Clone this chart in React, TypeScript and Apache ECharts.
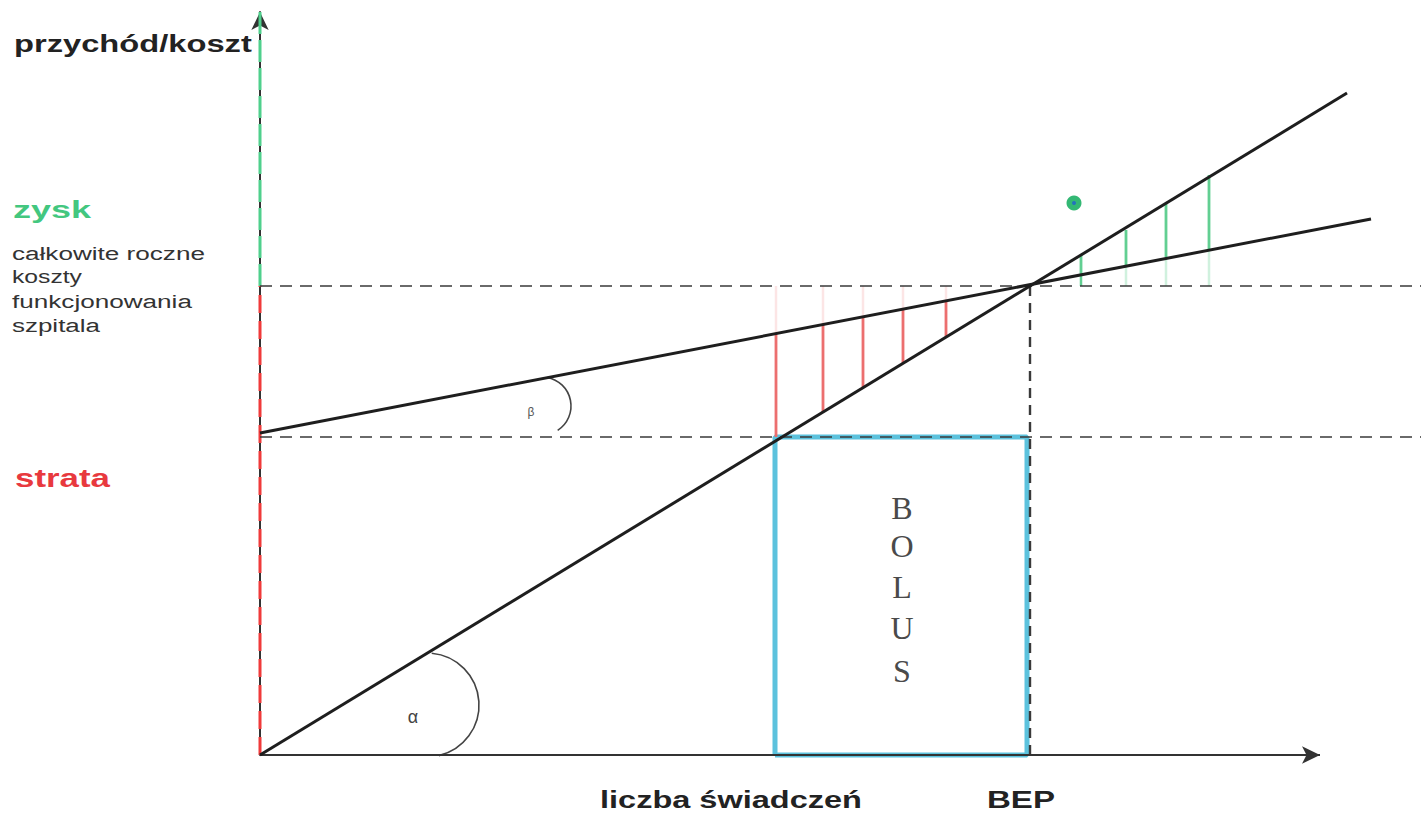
import React, { useEffect, useRef } from "react";
import * as echarts from "echarts";

// ---- data (abstract units: quantity of services vs. revenue/cost) ----
const xRange = [0, 116.1];
const yRange = [0, 74.3];
const xAxisEnd = 106;
const revenuePoints = [[0, 0], [108.7, 66.2]];
const costPoints = [[0, 32.2], [111.1, 53.6]];
const bepPoint = [77, 46.9];
const bolusLevel = 31.8;
const dashEndX = 116.1;
const bolusCorners = [[51.5, 0], [51.5, 31.8], [76.7, 31.8], [76.7, 0], [51.5, 0]];
const lossX = [51.6, 56.3, 60.3, 64.3, 68.6];
const lossRevenue = [31.8, 34.3, 36.8, 39.2, 41.8];
const lossCost = [42.2, 43.1, 43.9, 44.7, 45.5];
const profitX = [82.1, 86.6, 90.6, 94.9];
const profitCost = [48.1, 49.0, 49.8, 50.6];
const profitRevenue = [50.0, 52.5, 55.2, 58.0];
const markerPoint = [81.4, 55.2];

// ---- texts ----
const yAxisTitle = "przychód/koszt";
const xAxisTitle = "liczba świadczeń";
const bepLabel = "BEP";
const profitLabel = "zysk";
const lossLabel = "strata";
const costLabelLines = ["całkowite roczne", "koszty", "funkcjonowania", "szpitala"];
const bolusLetters = ["B", "O", "L", "U", "S"];
const alphaLabel = "α";
const betaLabel = "β";

const SANS = '"Liberation Sans", Arial, sans-serif';
const SERIF = '"Liberation Serif", "Times New Roman", serif';

function fitScale(text: string, font: string, target: number): number {
  const ctx = document.createElement("canvas").getContext("2d");
  if (!ctx) return 1;
  ctx.font = font;
  const w = ctx.measureText(text).width;
  return w > 0 ? target / w : 1;
}

function label(text: string, x: number, y: number, size: number, weight: string, color: string, target?: number, family: string = SANS, align: string = "left") {
  const font = `${weight} ${size}px ${family}`;
  return {
    type: "text",
    x,
    y,
    scaleX: target ? fitScale(text, font, target) : 1,
    silent: true,
    style: {
      text,
      font,
      fill: color,
      align,
      textAlign: align,
      verticalAlign: "middle",
      textVerticalAlign: "middle",
    },
  };
}

const BLACK = "#1e1e1e";
const DASH = "#3a3a3a";
const RED = "#ec6f6f";
const GREEN = "#62cf92";

function seg(data: number[][], color: string, width: number, type: any = "solid", opacity = 1, z = 2) {
  return {
    type: "line",
    data,
    symbol: "none",
    silent: true,
    clip: false,
    z,
    lineStyle: { color, width, type, opacity, cap: "butt" },
  };
}

export default function App() {
  const ref = useRef<HTMLDivElement>(null);

  useEffect(() => {
    document.body.style.margin = "0";
    if (!ref.current) return;
    const chart = echarts.init(ref.current, undefined, { renderer: "svg" });

    const series: any[] = [];
    // horizontal axis with arrow
    series.push({
      type: "line",
      data: [],
      silent: true,
      markLine: {
        silent: true,
        animation: false,
        symbol: ["none", "arrow"],
        symbolSize: 16,
        label: { show: false },
        lineStyle: { color: "#333", width: 2, type: "solid" },
        data: [[{ coord: [0, 0], symbol: "none" }, { coord: [xAxisEnd, 0], symbol: "arrow", symbolSize: [13, 18] }]],
      },
    });
    // colored overlay on vertical axis
    series.push(seg([[0, bepPoint[1]], [0, yRange[1]]], "#4fd08c", 3, [22, 6], 1, 3));
    series.push(seg([[0, 0], [0, bepPoint[1]]], "#f03a3a", 3, [18, 8], 1, 3));
    // BOLUS rectangle
    series.push(seg(bolusCorners, "#5cc2dd", 5, "solid", 1, 2));
    // dashed guides
    series.push(seg([[0, bepPoint[1]], [dashEndX, bepPoint[1]]], DASH, 1.6, [12, 8], 1, 3));
    series.push(seg([[0, bolusLevel], [dashEndX, bolusLevel]], DASH, 1.6, [12, 8], 1, 3));
    series.push(seg([[bepPoint[0], 0], [bepPoint[0], bepPoint[1]]], DASH, 2.4, [10, 7], 1, 3));
    // loss stripes
    lossX.forEach((x, i) => {
      series.push(seg([[x, lossCost[i]], [x, bepPoint[1]]], RED, 2.5, "solid", 0.18, 2));
      series.push(seg([[x, lossRevenue[i]], [x, lossCost[i]]], RED, 2.8, "solid", 1, 2));
    });
    // profit stripes
    profitX.forEach((x, i) => {
      series.push(seg([[x, bepPoint[1]], [x, profitCost[i]]], GREEN, 2.5, "solid", i === 0 ? 1 : 0.3, 2));
      series.push(seg([[x, profitCost[i]], [x, profitRevenue[i]]], GREEN, 2.8, "solid", 1, 2));
    });
    // main lines
    series.push(seg(revenuePoints, BLACK, 3, "solid", 1, 5));
    series.push(seg(costPoints, BLACK, 3, "solid", 1, 5));
    // marker dot
    series.push({
      type: "scatter",
      data: [markerPoint],
      symbolSize: 15,
      silent: true,
      z: 6,
      itemStyle: { color: "#00a651" },
    });
    series.push({
      type: "scatter",
      data: [markerPoint],
      symbolSize: 4,
      silent: true,
      z: 7,
      itemStyle: { color: "#2060d0" },
    });

    const graphics: any[] = [
      label(yAxisTitle, 14, 44, 24, "bold", "#222", 238),
      label(profitLabel, 13, 209, 24, "bold", "#43c77f", 78),
      label(costLabelLines[0], 12, 253, 19, "normal", "#333", 193),
      label(costLabelLines[1], 12, 277, 19, "normal", "#333", 70),
      label(costLabelLines[2], 12, 301, 19, "normal", "#333", 180),
      label(costLabelLines[3], 12, 325, 19, "normal", "#333", 88),
      label(lossLabel, 15, 478, 25, "bold", "#e8393e", 95),
      label(xAxisTitle, 600, 800, 24, "bold", "#222", 262),
      label(bepLabel, 987, 800, 24, "bold", "#222", 68),
      label(alphaLabel, 413, 717, 18, "normal", "#444", undefined, SANS, "center"),
      label(betaLabel, 531, 412, 12, "normal", "#555", undefined, SANS, "center"),
      {
        type: "arc",
        silent: true,
        shape: { cx: 427, cy: 705, r: 52, startAngle: -1.48, endAngle: 1.34, clockwise: true },
        style: { stroke: "#444", lineWidth: 1.6, fill: "none" },
      },
      {
        type: "arc",
        silent: true,
        shape: { cx: 542, cy: 406, r: 29, startAngle: -1.4, endAngle: 1.0, clockwise: true },
        style: { stroke: "#444", lineWidth: 1.6, fill: "none" },
      },
      ...bolusLetters.map((l, i) =>
        label(l, 902, [508, 546, 587, 628, 671][i], 32, "normal", "#4a4a4a", undefined, SERIF, "center")
      ),
    ];

    chart.setOption({
      animation: false,
      backgroundColor: "#ffffff",
      grid: { left: 260, right: 0, top: 12, bottom: 61, containLabel: false },
      xAxis: {
        type: "value",
        min: xRange[0],
        max: xRange[1],
        axisLine: { show: false },
        axisTick: { show: false },
        axisLabel: { show: false },
        splitLine: { show: false },
      },
      yAxis: {
        type: "value",
        min: yRange[0],
        max: yRange[1],
        axisLine: {
          show: true,
          symbol: ["none", "arrow"],
          symbolSize: [13, 18],
          lineStyle: { color: "#333", width: 2 },
        },
        axisTick: { show: false },
        axisLabel: { show: false },
        splitLine: { show: false },
      },
      series,
      graphic: graphics,
    });

    return () => chart.dispose();
  }, []);

  return <div ref={ref} style={{ width: 1421, height: 816 }} />;
}
